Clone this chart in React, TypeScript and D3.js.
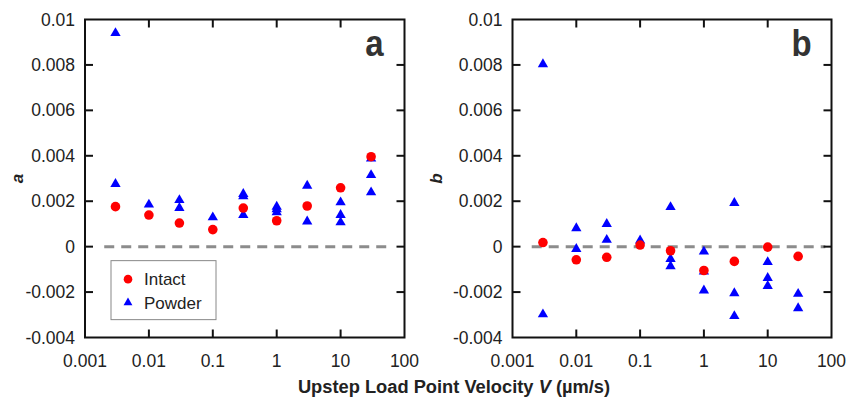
import React from "react";
import * as d3 from "d3";

const velocities = [0.003, 0.01, 0.03, 0.1, 0.3, 1, 3, 10, 30];
const aIntact = [0.00176, 0.00139, 0.00104, 0.00075, 0.0017, 0.00114, 0.00179, 0.00259, 0.00396];
const aPowderV = [0.003, 0.003, 0.01, 0.03, 0.03, 0.1, 0.3, 0.3, 0.3, 1, 1, 1, 3, 3, 10, 10, 10, 30, 30, 30];
const aPowderVal = [0.0094, 0.00276, 0.00185, 0.00205, 0.0017, 0.00129, 0.00232, 0.00222, 0.00139, 0.00176, 0.00165, 0.00151, 0.00268, 0.00111, 0.00195, 0.00139, 0.00107, 0.00388, 0.00315, 0.00239];
const bIntact = [0.00018, -0.00058, -0.00047, 0.00007, -0.00018, -0.00105, -0.00065, -0.00002, -0.00043];
const bPowderV = [0.003, 0.003, 0.01, 0.01, 0.03, 0.03, 0.1, 0.3, 0.3, 0.3, 1, 1, 1, 3, 3, 3, 10, 10, 10, 30, 30];
const bPowderVal = [0.00803, -0.00298, 0.00081, -0.0001, 0.001, 0.0003, 0.00027, 0.00174, -0.00054, -0.00086, -0.00022, -0.0011, -0.00193, 0.00192, -0.00205, -0.00306, -0.00068, -0.00138, -0.00173, -0.00208, -0.00271];
const yTicks = [-0.004, -0.002, 0, 0.002, 0.004, 0.006, 0.008, 0.01];
const yTickLabels = ["-0.004", "-0.002", "0", "0.002", "0.004", "0.006", "0.008", "0.01"];
const xTicks = [0.001, 0.01, 0.1, 1, 10, 100];
const xTickLabels = ["0.001", "0.01", "0.1", "1", "10", "100"];
const legendLabels = ["Intact", "Powder"];

const FONT = "'Liberation Sans', Arial, sans-serif";
const RED = "#ff0000";
const BLUE = "#0000ff";
const tri = d3.symbol().type(d3.symbolTriangle).size(46)();

function Panel({ x0, x1, y0, y1, intact, pV, pVal, letter, yLabel, yLabelX, dashEnd, legend }) {
  const x = d3.scaleLog().domain([0.001, 100]).range([x0, x1]);
  const y = d3.scaleLinear().domain([-0.004, 0.01]).range([y1, y0]);
  const tl = 8;
  return (
    <g>
      <line x1={x(0.002)} x2={x(dashEnd)} y1={y(0)} y2={y(0)} stroke="#8c8c8c" strokeWidth={3} strokeDasharray="10,7" />
      {pV.map((v, i) => (
        <path key={"p" + i} d={tri} transform={`translate(${x(v)},${y(pVal[i])})`} fill={BLUE} />
      ))}
      {velocities.map((v, i) => (
        <circle key={"c" + i} cx={x(v)} cy={y(intact[i])} r={4.8} fill={RED} />
      ))}
      <rect x={x0} y={y0} width={x1 - x0} height={y1 - y0} fill="none" stroke="#111" strokeWidth={2} />
      {yTicks.slice(1, -1).map((t) => (
        <g key={"yt" + t}>
          <line x1={x0} x2={x0 + tl} y1={y(t)} y2={y(t)} stroke="#111" strokeWidth={2} />
          <line x1={x1} x2={x1 - tl} y1={y(t)} y2={y(t)} stroke="#111" strokeWidth={2} />
        </g>
      ))}
      {xTicks.slice(1, -1).map((t) => (
        <g key={"xt" + t}>
          <line x1={x(t)} x2={x(t)} y1={y1} y2={y1 - tl} stroke="#111" strokeWidth={2} />
          <line x1={x(t)} x2={x(t)} y1={y0} y2={y0 + tl} stroke="#111" strokeWidth={2} />
        </g>
      ))}
      {yTicks.map((t, i) => (
        <text key={"yl" + t} x={x0 - 10} y={y(t) + 6} textAnchor="end" fontSize={17.5} fontFamily={FONT} fill="#222">
          {yTickLabels[i]}
        </text>
      ))}
      {xTicks.map((t, i) => (
        <text key={"xl" + t} x={x(t)} y={y1 + 29} textAnchor="middle" fontSize={17.5} fontFamily={FONT} fill="#222">
          {xTickLabels[i]}
        </text>
      ))}
      <text transform={`translate(${yLabelX},${(y0 + y1) / 2 + 0}) rotate(-90)`} textAnchor="middle" fontSize={17} fontWeight="bold" fontStyle="italic" fontFamily={FONT} fill="#222">
        {yLabel}
      </text>
      <text transform={`translate(${x1 - 30},${y0 + 36}) scale(1,1.12)`} textAnchor="middle" fontSize={33} fontWeight="bold" fontFamily={FONT} fill="#333">
        {letter}
      </text>
      {legend && (
        <g>
          <rect x={x0 + 26} y={y(0) + 14} width={105} height={59} fill="#fff" stroke="#888" strokeWidth={1} />
          <circle cx={x0 + 43} cy={y(0) + 32.5} r={4.3} fill={RED} />
          <path d={d3.symbol().type(d3.symbolTriangle).size(34)()} transform={`translate(${x0 + 43},${y(0) + 56})`} fill={BLUE} />
          <text x={x0 + 59} y={y(0) + 38.5} fontSize={17} fontFamily={FONT} fill="#222">{legendLabels[0]}</text>
          <text x={x0 + 59} y={y(0) + 62} fontSize={17} fontFamily={FONT} fill="#222">{legendLabels[1]}</text>
        </g>
      )}
    </g>
  );
}

export default function App() {
  return (
    <svg width={851} height={401} style={{ position: "absolute", left: 0, top: 0, background: "#fff" }}>
      <rect width={851} height={401} fill="#fff" />
      <Panel x0={85} x1={404.5} y0={19.5} y1={337.5} intact={aIntact} pV={aPowderV} pVal={aPowderVal} letter="a" yLabel="a" yLabelX={23} dashEnd={55} legend={true} />
      <Panel x0={512.5} x1={831.5} y0={19.5} y1={337.5} intact={bIntact} pV={bPowderV} pVal={bPowderVal} letter="b" yLabel="b" yLabelX={442} dashEnd={80} legend={false} />
      <text x={454} y={393} textAnchor="middle" fontSize={18.3} fontWeight="bold" fontFamily={FONT} fill="#222">
        Upstep Load Point Velocity <tspan fontStyle="italic">V</tspan> (µm/s)
      </text>
    </svg>
  );
}
